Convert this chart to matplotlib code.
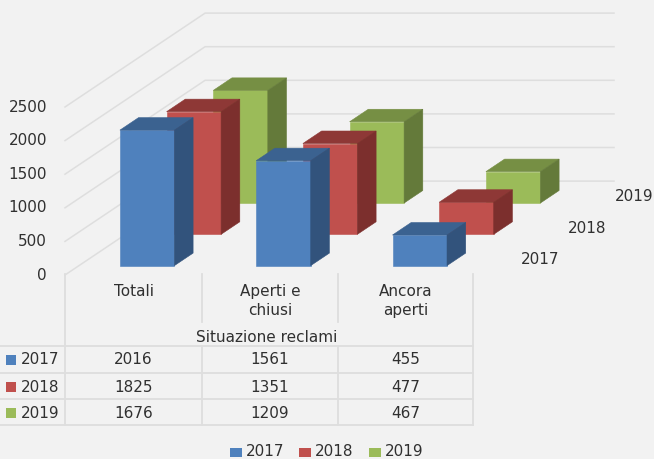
# Recreating the 3D clustered column chart of the complaints ("reclami") per year
import matplotlib
matplotlib.use('Agg')
import matplotlib.pyplot as plt
from matplotlib.patches import Polygon, Rectangle

categories = ['Totali', 'Aperti e\nchiusi', 'Ancora\naperti']
years = ['2017', '2018', '2019']
values_2017 = [2016, 1561, 455]
values_2018 = [1825, 1351, 477]
values_2019 = [1676, 1209, 467]
y_ticks = [0, 500, 1000, 1500, 2000, 2500]
group_title = 'Situazione reclami'

series = [values_2017, values_2018, values_2019]
front_colors = ['#4F81BD', '#C0504D', '#9BBB59']
top_colors = ['#3B6290', '#8E3836', '#768F44']
side_colors = ['#32537C', '#7C2F2D', '#647A3A']
grid_color = '#DEDEDE'
text_color = '#303030'
background = '#F2F2F2'
font_size = 11

width_px, height_px = 654, 459
origin_px = (65, 275)       # Where category 0, depth 0, value 0 sits on the picture
px_per_cat = 136.3          # Pixels for one category
px_per_value = 0.0672       # Pixels for one unit of the value axis
depth_x_px = 46.7           # Sideways shift of one series slot
depth_y_px = 31.3           # Upwards shift of one series slot


def project(cat, depth, value):
    """
    Oblique projection of a chart position on the 2D axes
    Parameters
        cat - Position along the categories
        depth - Position along the series
        value - Height on the value axis
    Return
        x and y in the data coordinates of the chart axes
    """
    return (cat + depth*depth_x_px/px_per_cat, value + depth*depth_y_px/px_per_value)


def draw_bar(ax, cat, depth, value, colors):
    """
    Draw one box with its front, top and side faces
    """
    x0, x1 = cat + 0.3, cat + 0.7   # Bar takes 40% of the category
    d0, d1 = depth + 0.3, depth + 0.7
    front = [project(x0, d0, 0), project(x1, d0, 0), project(x1, d0, value), project(x0, d0, value)]
    top = [project(x0, d0, value), project(x1, d0, value), project(x1, d1, value), project(x0, d1, value)]
    side = [project(x1, d0, 0), project(x1, d1, 0), project(x1, d1, value), project(x1, d0, value)]
    for face, color in zip([front, top, side], colors):
        ax.add_patch(Polygon(face, closed=True, facecolor=color, edgecolor=color, linewidth=0.4, zorder=3))


fig = plt.figure(figsize=(width_px/100, height_px/100), dpi=100, facecolor=background)

# Chart axes fill the figure, limits put the origin at its place on the picture
ax = fig.add_axes([0, 0, 1, 1])
ax.set_xlim(-origin_px[0]/px_per_cat, (width_px - origin_px[0])/px_per_cat)
ax.set_ylim(-(height_px - origin_px[1])/px_per_value, origin_px[1]/px_per_value)
ax.axis('off')

# Overlay in pixels for the data table and the legend
tb = fig.add_axes([0, 0, 1, 1])
tb.set_xlim(0, width_px)
tb.set_ylim(height_px, 0)
tb.axis('off')
tb.patch.set_alpha(0)

n_cats = len(categories)
n_series = len(years)

# Gridlines on the left and back walls, value labels
for tick in y_ticks:
    wall = [project(0, 0, tick), project(0, n_series, tick), project(3.0, n_series, tick)]
    ax.plot([p[0] for p in wall], [p[1] for p in wall], color=grid_color, lw=1.1, zorder=1)
    ax.annotate(str(tick), project(0, 0, tick), xytext=(-13, 0), textcoords='offset points',
                ha='right', va='center', fontsize=font_size, color=text_color)

# Boxes from the back series to the front one
for i in reversed(range(n_series)):
    colors = (front_colors[i], top_colors[i], side_colors[i])
    for j in range(n_cats):
        draw_bar(ax, j, i, series[i][j], colors)

# Series names along the depth axis
for i, year in enumerate(years):
    ax.annotate(year, project(n_cats, i + 0.5, 0), xytext=(31, 0), textcoords='offset points',
                ha='center', va='center', fontsize=font_size, color=text_color)

# Data table
col_edges = [65, 202, 338, 473]
row_lines = [346, 373, 399, 425]
row_text = [360, 387, 413]
for y in row_lines:
    tb.plot([0, col_edges[-1]], [y, y], color=grid_color, lw=1.3)
for x in [col_edges[0], col_edges[-1]]:
    tb.plot([x, x], [274, row_lines[-1]], color=grid_color, lw=1.3)
for x in col_edges[1:-1]:
    tb.plot([x, x], [274, 322], color=grid_color, lw=1.3)
    tb.plot([x, x], [row_lines[0], row_lines[-1]], color=grid_color, lw=1.3)

centres = [(col_edges[k] + col_edges[k + 1])/2 for k in range(n_cats)]
for x, label in zip(centres, categories):
    tb.text(x, 284, label, ha='center', va='top', fontsize=font_size, color=text_color, linespacing=1.3)
tb.text(267, 337, group_title, ha='center', va='center', fontsize=font_size, color=text_color)

for i, year in enumerate(years):
    tb.add_patch(Rectangle((6, row_text[i] - 5), 10, 10, facecolor=front_colors[i], edgecolor='none'))
    tb.text(21, row_text[i], year, ha='left', va='center', fontsize=font_size, color=text_color)
    for x, value in zip(centres, series[i]):
        tb.text(x, row_text[i], str(value), ha='center', va='center', fontsize=font_size, color=text_color)

# Legend at the bottom
legend_x = [230, 299, 369]
for x, year, color in zip(legend_x, years, front_colors):
    tb.add_patch(Rectangle((x, 448), 12, 9, facecolor=color, edgecolor='none'))
    tb.text(x + 16, 452, year, ha='left', va='center', fontsize=font_size, color=text_color)

fig.savefig('out.png', dpi=100, facecolor=background)
